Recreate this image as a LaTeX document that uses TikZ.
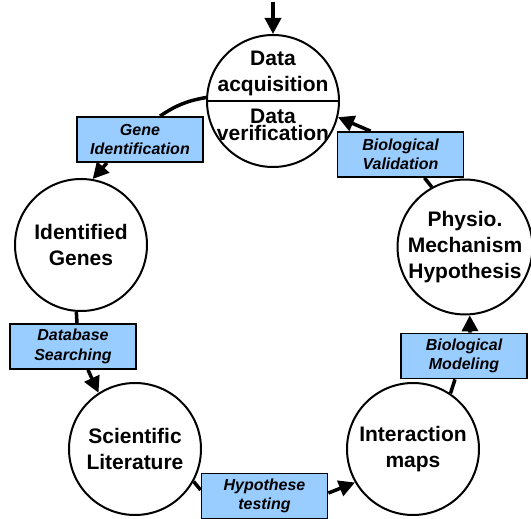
\documentclass[tikz,border=0pt]{standalone}
\usepackage{fontspec}
\setmainfont{Liberation Sans}
\usetikzlibrary{arrows.meta, positioning}
\definecolor{boxblue}{RGB}{153,204,255}
\tikzset{
	stagecircle/.style={circle, draw, line width=2pt, minimum size=132pt, inner sep=0pt,
	  align=center, font=\fontsize{21}{26}\selectfont\bfseries}
}
\tikzset{
	stagetext/.style={inner sep=0pt, align=center, font=\fontsize{21}{26}\selectfont\bfseries}
}
\tikzset{
	actionbox/.style={rectangle, draw, line width=1.8pt, fill=boxblue, minimum width=126pt,
	  minimum height=45pt, inner sep=0pt, align=center,
	  font=\fontsize{16}{19.5}\selectfont\bfseries\itshape}
}
\tikzset{
	link/.style={line width=3.5pt},
	flow/.style={link, -{Triangle[length=16pt,width=16pt]}}
}

\begin{document}
\begin{tikzpicture}[x=1pt, y=-1pt]
      \useasboundingbox (0,0) rectangle (531,519);
      % stages on the cycle
      \node[stagecircle] (acq) at (273,101) {};
      \node[stagecircle] (genes) at (81,245) {Identified\\Genes};
      \node[stagecircle] (lit) at (135,449) {Scientific\\Literature};
      \node[stagecircle] (imaps) at (413,449) {Interaction\\maps};
      \node[stagecircle] (physio) at (465,247) {Physio.\\Mechanism\\Hypothesis};
      % split top stage
      \draw[line width=2pt] (acq.west) -- (acq.east);
      \node[stagetext] (acqtop) at (273,73) {Data\\acquisition};
      \node[stagetext] (acqdata) at (273,116) {Data};
      \node[stagetext] (acqverif) at (273,133) {verification};
      % actions between stages
      \node[actionbox] (geneid) at (140,139.5) {Gene\\Identification};
      \node[actionbox] (dbsearch) at (73,346.5) {Database\\Searching};
      \node[actionbox] (hyptest) at (264.5,496) {Hypothese\\testing};
      \node[actionbox] (biomod) at (464,356) {Biological\\Modeling};
      \node[actionbox] (bioval) at (400.5,154.5) {Biological\\Validation};
      % entry arrow
      \coordinate (entry) at (273,2);
      \draw[flow] (entry) -- (acq.north);
      % connectors round the cycle
      \draw[link] (acq.177) to[bend right=12] ([xshift=20pt]geneid.north);
      \draw[flow] ([xshift=-33pt]geneid.south) -- (genes.80);
      \draw[link] (genes.266) -- ([xshift=4pt]dbsearch.north);
      \draw[flow] ([xshift=15pt]dbsearch.south) -- (lit.123);
      \draw[link] (lit.-29) -- ([yshift=6pt]hyptest.west);
      \draw[flow] ([yshift=3pt]hyptest.east) -- (imaps.210);
      \draw[link] (imaps.56) -- ([xshift=-9pt]biomod.south);
      \draw[flow] ([xshift=6pt]biomod.north) -- (physio.-86);
      \draw[link] (physio.119) -- ([xshift=24pt]bioval.south);
      \draw[flow] ([xshift=-30pt]bioval.north) -- (acq.-14);
    \end{tikzpicture}
\end{document}
